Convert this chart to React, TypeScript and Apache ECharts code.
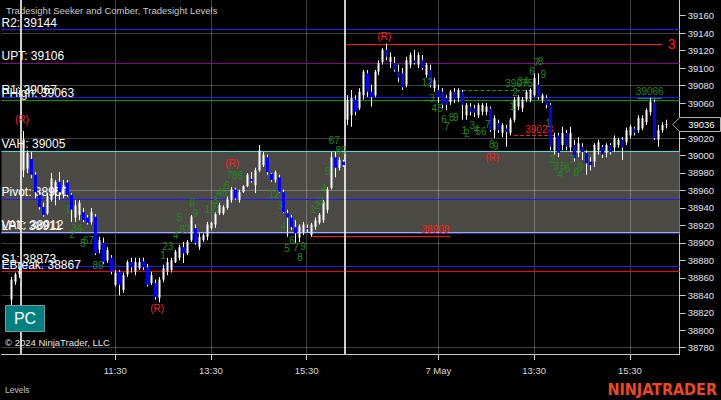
import React, { useEffect, useRef } from 'react';
import * as echarts from 'echarts';

// ---------- DATA ----------
type Bar = [number, number, number, number] | null; // open, high, low, close

const prevDayTimes = ['15:55', '16:00', '16:05', '16:10', '16:15'];
const prevDayBars: Bar[] = [
  null, null,
  [38835, 38861, 38829, 38858],
  [38855, 38866, 38852, 38864],
  [38864, 38872, 38860, 38868],
];

const day1Bars: Bar[] = [
  [38983, 39028, 38975, 39018], [38985, 39006, 38980, 39003], [38996, 39004, 38974, 38978], [38978, 38981, 38951, 38958],
  [38955, 38958, 38938, 38941], [38941, 38946, 38930, 38932], [38934, 38957, 38932, 38953], [38949, 38980, 38947, 38974],
  [38955, 38972, 38943, 38970], [38970, 38981, 38949, 38958], [38955, 38972, 38951, 38966], [38969, 38972, 38953, 38955],
  [38955, 38957, 38924, 38938], [38929, 38949, 38924, 38943], [38932, 38949, 38926, 38946], [38935, 38940, 38924, 38926],
  [38929, 38932, 38921, 38923], [38924, 38940, 38921, 38935], [38930, 38933, 38886, 38888], [38892, 38907, 38888, 38903],
  [38900, 38906, 38876, 38878], [38880, 38895, 38877, 38892], [38883, 38886, 38864, 38867], [38852, 38869, 38850, 38866],
  [38867, 38869, 38840, 38852], [38846, 38866, 38843, 38863], [38864, 38880, 38861, 38878], [38878, 38883, 38866, 38872],
  [38867, 38883, 38863, 38878], [38871, 38883, 38869, 38878], [38879, 38883, 38869, 38872], [38872, 38876, 38850, 38852],
  [38854, 38867, 38852, 38863], [38854, 38858, 38835, 38838], [38837, 38861, 38832, 38858], [38858, 38875, 38855, 38871],
  [38867, 38883, 38863, 38878], [38869, 38883, 38866, 38880], [38878, 38892, 38877, 38890], [38883, 38898, 38880, 38895],
  [38895, 38901, 38877, 38888], [38888, 38903, 38886, 38901], [38903, 38932, 38901, 38930], [38917, 38921, 38898, 38900],
  [38895, 38911, 38892, 38907], [38903, 38911, 38901, 38909], [38907, 38924, 38903, 38921], [38917, 38924, 38915, 38923],
  [38921, 38935, 38917, 38933], [38934, 38946, 38932, 38943], [38934, 38943, 38932, 38941], [38940, 38953, 38938, 38950],
  [38949, 38964, 38946, 38961], [38961, 38963, 38949, 38951], [38949, 38961, 38946, 38958], [38958, 38966, 38957, 38965],
  [38965, 38980, 38964, 38978], [38973, 38981, 38969, 38971], [38966, 38986, 38957, 38983], [38983, 39012, 38981, 39006],
  [38989, 39004, 38987, 39001], [38998, 39001, 38978, 38981], [38979, 38980, 38970, 38972], [38972, 38983, 38969, 38981],
  [38975, 38978, 38957, 38958], [38958, 38961, 38934, 38935], [38934, 38938, 38907, 38929], [38929, 38932, 38915, 38918],
  [38918, 38926, 38900, 38911], [38906, 38921, 38901, 38919], [38912, 38924, 38909, 38921], [38917, 38921, 38912, 38916],
  [38909, 38923, 38907, 38921], [38918, 38929, 38915, 38926], [38923, 38934, 38921, 38932], [38926, 38949, 38923, 38947],
  [38938, 38964, 38934, 38961], [38963, 39004, 38961, 38998], [38998, 39004, 38975, 38986], [38986, 38998, 38983, 38995],
  [38993, 38995, 38987, 38989],
];

const day2Bars: Bar[] = [
  [39041, 39069, 39035, 39064], [39046, 39075, 39033, 39066], [39064, 39069, 39046, 39050], [39054, 39077, 39052, 39073],
  [39069, 39098, 39064, 39096], [39094, 39098, 39067, 39073], [39073, 39081, 39056, 39067], [39069, 39098, 39067, 39096],
  [39096, 39109, 39092, 39106], [39107, 39123, 39104, 39121], [39121, 39128, 39109, 39113], [39107, 39118, 39100, 39113],
  [39106, 39113, 39096, 39098], [39096, 39104, 39084, 39089], [39094, 39100, 39075, 39078], [39081, 39113, 39078, 39109],
  [39104, 39118, 39100, 39115], [39109, 39121, 39104, 39106], [39104, 39118, 39100, 39115], [39109, 39115, 39098, 39100],
  [39092, 39106, 39089, 39104], [39098, 39104, 39078, 39081], [39077, 39089, 39073, 39086], [39075, 39081, 39060, 39067],
  [39073, 39077, 39054, 39058], [39066, 39069, 39052, 39058], [39061, 39075, 39058, 39073], [39073, 39077, 39060, 39064],
  [39066, 39077, 39061, 39075], [39073, 39075, 39041, 39058], [39046, 39060, 39041, 39058], [39056, 39060, 39046, 39050],
  [39054, 39058, 39044, 39049], [39046, 39060, 39043, 39058], [39050, 39060, 39046, 39058], [39050, 39060, 39046, 39056],
  [39054, 39056, 39027, 39029], [39029, 39046, 39020, 39043], [39037, 39041, 39026, 39029], [39026, 39037, 39021, 39035],
  [39031, 39035, 39010, 39027], [39026, 39043, 39023, 39041], [39041, 39067, 39038, 39064], [39056, 39069, 39052, 39067],
  [39054, 39067, 39050, 39064], [39064, 39075, 39061, 39073], [39064, 39077, 39061, 39075], [39069, 39094, 39067, 39089],
  [39081, 39094, 39064, 39067], [39064, 39071, 39060, 39069], [39066, 39069, 39054, 39058], [39058, 39060, 39006, 39010],
  [39006, 39026, 39001, 39021], [39023, 39026, 38998, 39003], [39012, 39033, 39006, 39026], [39026, 39029, 39006, 39010],
  [39009, 39033, 39004, 39026], [39012, 39018, 38993, 38997], [39003, 39021, 38998, 39014], [39010, 39014, 38995, 39004],
  [39003, 39006, 38978, 38991], [38993, 38998, 38983, 38989], [38993, 39014, 38987, 39012], [39006, 39018, 39001, 39015],
  [39010, 39012, 38997, 39001], [39003, 39014, 38998, 39012], [39012, 39014, 39001, 39004], [39009, 39023, 39004, 39020],
  [39012, 39020, 39009, 39018], [39018, 39021, 38995, 39009], [39015, 39032, 39012, 39029], [39023, 39035, 39020, 39033],
  [39031, 39033, 39023, 39026], [39029, 39046, 39026, 39043], [39031, 39046, 39029, 39043], [39038, 39054, 39035, 39052],
  [39050, 39066, 39046, 39062], [39061, 39064, 39018, 39020], [39018, 39035, 39010, 39029], [39029, 39038, 39026, 39035],
  [39035, 39041, 39031, 39036],
];

const trailingTimes = ['16:20', '16:25', '16:30'];

const xLabelIdx = [28, 52, 76, 109, 133, 157];
const xLabelText = ['11:30', '13:30', '15:30', '7 May', '13:30', '15:30'];

const yTickValues = [38780, 38800, 38820, 38840, 38860, 38880, 38900, 38920, 38940, 38960, 38980,
  39000, 39020, 39040, 39060, 39080, 39100, 39120, 39140, 39160];
const gridLevels = [38780, 38840, 38900, 38960, 39020, 39080, 39140];
const yMin = 38772.8;
const yMax = 39178;

const levelNames = ['R2', 'UPT', 'R1', 'PHigh', 'VAH', 'Pivot', 'VAL', 'LPT', 'S1', 'EBreak'];
const levelValues = [39144, 39106, 39067, 39063, 39005, 38950, 38912, 38911, 38873, 38867];
const levelColors = ['#1c1cff', '#8c008c', '#1c1cff', '#00a000', '#40e0e0', '#1c1cff', '#40e0e0', '#8c008c', '#1c1cff', '#ff0000'];
const valueAreaHigh = 39005;
const valueAreaLow = 38912;

// horizontal segments: [startIdx, endIdx, price, label]
const segReversalHigh: [number, number, number, string] = [86, 165, 39127.5, '3'];
const segGreenDashed: [number, number, number, string] = [115, 133, 39075, '39075'];
const segRedDashed: [number, number, number, string] = [128, 138, 39023, '39023'];
const segRedSolid: [number, number, number, string] = [77, 112, 38908, '38908'];
const segGreenSolid: [number, number, number, string] = [159, 165, 39066, '39066'];

const sessionStartIdx = [5, 86];

const seekerMarks: [number, number, string][] = [
  [16.2, 38938, '1'], [17.2, 38910, '2'], [18.4, 38917, '34'], [19.9, 38899, '5'], [21.3, 38903, '67'], [23.7, 38874, '89'],
  [40.0, 38885, '1'], [41.2, 38896, '23'], [43.2, 38908, '4'], [44.2, 38929, '5'], [45.5, 38915, '67'], [47.3, 38946, '8'],
  [48.1, 38934, '9'], [51.8, 38938, '12'], [53.0, 38949, '3'], [54.8, 38958, '45'], [56.0, 38966, '6'], [58.0, 38977, '789'],
  [67.8, 38955, '12'], [69.3, 38943, '3'], [70.1, 38919, '4'], [71.1, 38893, '5'], [72.3, 38903, '6'], [73.3, 38895, '7'],
  [74.3, 38883, '8'], [75.1, 38896, '9'], [77.6, 38938, '1'], [78.6, 38943, '2'], [79.6, 38947, '3'], [80.3, 38962, '4'],
  [81.3, 38982, '5'], [82.9, 39017, '67'], [84.6, 39006, '89'],
  [106.2, 39084, '12'], [107.4, 39065, '3'], [108.7, 39054, '45'], [110.4, 39041, '6'], [111.2, 39033, '7'], [112.4, 39043, '8'],
  [113.4, 39044, '9'], [115.5, 39029, '1'], [116.2, 39025, '2'], [117.5, 39034, '3'], [118.5, 39030, '4'], [119.7, 39027, '56'],
  [121.4, 39035, '7'], [122.4, 39013, '8'], [123.4, 39010, '9'], [127.5, 39056, '1'], [128.2, 39072, '2'], [130.2, 39085, '34'],
  [132.5, 39096, '6'], [133.6, 39107, '7'], [134.6, 39108, '8'], [135.3, 39093, '9'], [136.5, 39037, '1'], [137.5, 38995, '2'],
  [138.5, 38987, '3'], [139.5, 38978, '4'], [140.3, 38987, '5'], [141.4, 38985, '6'], [142.6, 38995, '7'], [143.6, 38981, '8'],
  [144.6, 38986, '9'],
];

const reversalMarks: [number, number, string][] = [
  [4.6, 39041, '(R)'], [38.5, 38825, '(R)'], [57.3, 38991, '(R)'], [95.4, 39136, '(R)'], [122.5, 38998, '(R)'],
];

// ---------- BUILD ----------
function sessionTimes(): string[] {
  const out: string[] = [];
  for (let m = 9 * 60 + 35; m <= 16 * 60 + 15; m += 5) {
    out.push(`${Math.floor(m / 60)}:${String(m % 60).padStart(2, '0')}`);
  }
  return out;
}
const categories = [...prevDayTimes, ...sessionTimes(), ...sessionTimes(), ...trailingTimes];
const allBars: Bar[] = [...prevDayBars, ...day1Bars, ...day2Bars];
const barData: number[][] = [];
allBars.forEach((b, i) => { if (b) barData.push([i, b[0], b[1], b[2], b[3]]); });
const lastIdx = allBars.length - 1;
const lastClose = (allBars[lastIdx] as number[])[3];

const FONT = '"Liberation Sans", Arial, sans-serif';

function textMarkSeries(name: string, marks: [number, number, string][], color: string, size: number) {
  return {
    name, type: 'custom', z: 11, silent: true,
    data: marks.map((m) => [m[0], m[1]]),
    encode: { x: 0, y: 1 },
    renderItem: (params: any, api: any) => {
      const v = api.value(0);
      const base = Math.floor(v);
      const frac = v - base;
      const p = api.coord([base, api.value(1)]);
      const bw = api.size([1, 0])[0];
      return {
        type: 'text', x: p[0] + frac * bw, y: p[1],
        style: { text: marks[params.dataIndex][2], fill: color, fontSize: size, fontFamily: FONT, align: 'center', verticalAlign: 'middle' },
      };
    },
  };
}

function segment(s: [number, number, number, string], color: string, type: string, labelColor: string, pos: string, size: number, dist: number) {
  return [
    { coord: [s[0], s[2]], lineStyle: { color, type, width: 1 }, label: { show: true, formatter: s[3], position: pos, color: labelColor, fontSize: size, fontFamily: FONT, distance: dist } },
    { coord: [s[1], s[2]] },
  ];
}

const option: any = {
  animation: false,
  backgroundColor: '#000000',
  textStyle: { fontFamily: FONT },
  grid: { left: 1.5, top: 0, width: 678.2, height: 354, containLabel: false, outerBoundsMode: 'none' },
  xAxis: {
    type: 'category', data: categories, boundaryGap: true,
    axisLine: { show: true, lineStyle: { color: '#c8c8c8', width: 1 } },
    axisTick: { show: true, alignWithLabel: true, length: 6, interval: (i: number) => xLabelIdx.includes(i), lineStyle: { color: '#c8c8c8' } },
    axisLabel: {
      show: true, interval: (i: number) => xLabelIdx.includes(i),
      formatter: (_v: string, i: number) => { const k = xLabelIdx.indexOf(i); return k >= 0 ? xLabelText[k] : ''; },
      color: '#dadada', fontSize: 9.5, margin: 11, fontFamily: FONT,
    },
    splitLine: { show: false },
  },
  yAxis: {
    type: 'value', position: 'right', min: yMin, max: yMax,
    axisLine: { show: true, lineStyle: { color: '#c8c8c8' } },
    axisTick: { show: true, length: 6, customValues: yTickValues, lineStyle: { color: '#c8c8c8' } },
    axisLabel: { show: true, customValues: yTickValues, formatter: (v: number) => String(v), color: '#e0e6f0', fontSize: 9.5, margin: 8, fontFamily: FONT },
    splitLine: { show: false },
  },
  graphic: [
    { type: 'text', x: 6, y: 10.5, z: 20, style: { text: 'Tradesight Seeker and Comber, Tradesight Levels', fill: '#c8c8c8', fontSize: 9.5, fontFamily: FONT, verticalAlign: 'middle' } },
    { type: 'rect', z: 20, shape: { x: 5.5, y: 305.5, width: 39, height: 26 }, style: { fill: '#008080', stroke: '#6f9c9c', lineWidth: 1 } },
    { type: 'text', x: 25, y: 318.5, z: 21, style: { text: 'PC', fill: '#ffffff', fontSize: 16, fontFamily: FONT, align: 'center', verticalAlign: 'middle' } },
    { type: 'text', x: 5, y: 342, z: 20, style: { text: '© 2024 NinjaTrader, LLC', fill: '#e6e6e6', fontSize: 9.5, fontFamily: FONT, verticalAlign: 'middle' } },
    { type: 'text', x: 5, y: 390, z: 20, style: { text: 'Levels', fill: '#c4c4c4', fontSize: 8.5, fontFamily: FONT, verticalAlign: 'middle' } },
    { type: 'text', x: 717, y: 389.5, z: 20, style: { text: 'NINJATRADER', fill: '#ec4a1e', fontSize: 16, fontWeight: 'bold', fontFamily: '"Liberation Sans Narrow", "DejaVu Sans Condensed", sans-serif', align: 'right', verticalAlign: 'middle' } },
  ],
  series: [
    {
      name: 'valueArea', type: 'line', data: [], silent: true,
      markArea: { silent: true, z: 1, itemStyle: { color: '#4b4a44' }, label: { show: false }, data: [[{ yAxis: valueAreaHigh }, { yAxis: valueAreaLow }]] },
    },
    {
      name: 'grid', type: 'line', data: [], silent: true,
      markLine: {
        silent: true, z: 2, symbol: ['none', 'none'], label: { show: false },
        lineStyle: { color: 'rgba(255,255,255,0.25)', width: 1, type: 'solid' },
        data: [...gridLevels.map((v) => ({ yAxis: v })), ...xLabelIdx.map((i) => ({ xAxis: i }))],
      },
    },
    {
      name: 'levels', type: 'line', data: [], silent: true,
      markLine: {
        silent: true, z: 3, symbol: ['none', 'none'],
        label: { show: true, position: 'insideStartTop', color: '#ffffff', fontSize: 12, fontFamily: FONT, distance: [0, 1] },
        data: levelValues.map((v, i) => ({
          yAxis: v,
          lineStyle: { color: levelColors[i], width: 1, type: 'solid' },
          label: { formatter: `${levelNames[i]}: ${v}` },
        })),
      },
    },
    {
      name: 'segments', type: 'line', data: [], silent: true,
      markLine: {
        silent: true, z: 3, symbol: ['none', 'none'],
        data: [
          segment(segReversalHigh, '#ff1a1a', 'solid', '#ff1a1a', 'end', 14, 6),
          segment(segGreenDashed, '#1e8c1e', 'dashed', '#1e8c1e', 'insideEndTop', 10, 1),
          segment(segRedDashed, '#ff1a1a', 'dashed', '#ff1a1a', 'insideEndTop', 10, 1),
          segment(segRedSolid, '#ff1a1a', 'solid', '#ff1a1a', 'insideEndTop', 10, 1),
          segment(segGreenSolid, '#1e8c1e', 'solid', '#1e8c1e', 'insideMiddleTop', 10, 1),
        ],
      },
    },
    {
      name: 'sessions', type: 'custom', z: 4, silent: true,
      data: sessionStartIdx.map((i) => [i, yMax]),
      encode: { x: 0, y: 1 },
      renderItem: (params: any, api: any) => {
        const cs = params.coordSys;
        const p = api.coord([api.value(0), api.value(1)]);
        const bw = api.size([1, 0])[0];
        const x = Math.round(p[0] - bw / 2);
        return { type: 'line', shape: { x1: x, y1: cs.y, x2: x, y2: cs.y + cs.height }, style: { stroke: '#ffffff', lineWidth: 1.6 } };
      },
    },
    {
      name: 'bars', type: 'custom', z: 10, silent: true,
      data: barData,
      encode: { x: 0, y: [1, 2, 3, 4] },
      renderItem: (_params: any, api: any) => {
        const idx = api.value(0);
        const o = api.value(1), h = api.value(2), l = api.value(3), c = api.value(4);
        const pO = api.coord([idx, o]);
        const pH = api.coord([idx, h]);
        const pL = api.coord([idx, l]);
        const pC = api.coord([idx, c]);
        const x = Math.round(pO[0]) + 0.5;
        const up = c >= o;
        const top = Math.min(pO[1], pC[1]);
        const bot = Math.max(pO[1], pC[1]);
        const bw = up ? 2 : 3;
        return {
          type: 'group',
          children: [
            { type: 'line', shape: { x1: x, y1: pH[1], x2: x, y2: pL[1] }, style: { stroke: '#ffffff', lineWidth: 1 } },
            { type: 'rect', shape: { x: x - bw / 2, y: top, width: bw, height: Math.max(1, bot - top) }, style: { fill: up ? '#ffffff' : '#0000ff' } },
          ],
        };
      },
    },
    textMarkSeries('seeker', seekerMarks, '#1e8c1e', 10),
    textMarkSeries('reversals', reversalMarks, '#ff2020', 10),
    {
      name: 'lastPrice', type: 'custom', z: 12, silent: true,
      data: [[lastIdx, lastClose]],
      encode: { x: 0, y: 1 },
      renderItem: (params: any, api: any) => {
        const cs = params.coordSys;
        const y = Math.round(api.coord([api.value(0), api.value(1)])[1]) + 0.5;
        const r = cs.x + cs.width;
        return {
          type: 'group',
          children: [
            { type: 'polygon', shape: { points: [[r - 7, y], [r, y - 7], [720.5, y - 7], [720.5, y + 7], [r, y + 7]] }, style: { fill: '#000000', stroke: '#b4b4b4', lineWidth: 1 } },
            { type: 'text', x: r + 8.5, y, style: { text: String(api.value(1)), fill: '#ffffff', fontSize: 9.5, fontFamily: FONT, verticalAlign: 'middle' } },
          ],
        };
      },
    },
  ],
};

export default function App() {
  const ref = useRef<HTMLDivElement>(null);
  useEffect(() => {
    const chart = echarts.init(ref.current as HTMLDivElement, null, { renderer: 'svg' });
    chart.setOption(option);
    return () => chart.dispose();
  }, []);
  return <div ref={ref} style={{ position: 'fixed', left: 0, top: 0, width: 721, height: 400, background: '#000' }} />;
}
